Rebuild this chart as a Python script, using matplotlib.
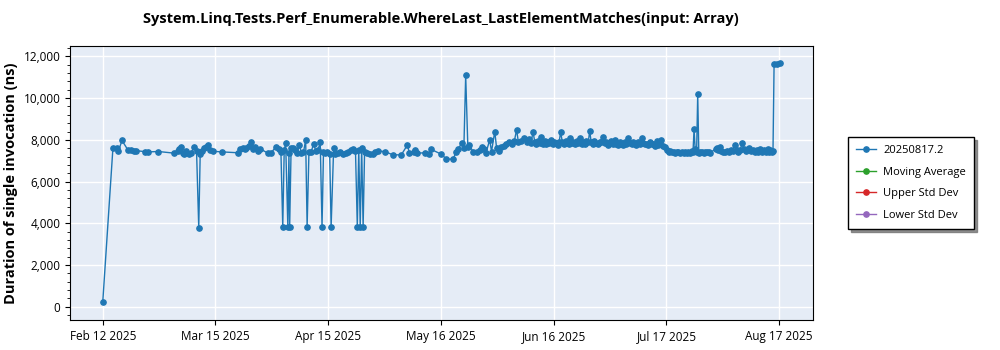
import numpy as np
import pandas as pd
import matplotlib
matplotlib.use("Agg")
from matplotlib import pyplot as plt
import matplotlib.dates as mdates
from matplotlib.ticker import FuncFormatter, MultipleLocator

plt.rcParams['font.family'] = ['Open Sans', 'DejaVu Sans']

title = "System.Linq.Tests.Perf_Enumerable.WhereLast_LastElementMatches(input: Array)"
ylabel = "Duration of single invocation (ns)"
series_name = "20250817.2"
start = "2025-02-12"

# days after Feb 12 2025 and measured duration (ns)
days = [
    0, 2.8, 4.0, 4.3, 5.3, 6.9, 7.8, 8.5, 9.2, 11.5, 12.4, 15.3, 19.7, 20.6, 21.0, 21.6,
    22.0, 22.4, 23.0, 23.6, 24.2, 25.2, 25.8, 26.4, 26.8, 27.2, 27.8, 28.4, 28.9, 29.5,
    30.2, 32.9,
    37.2, 37.8, 38.5, 39.0, 39.5, 40.2, 40.8, 41.4, 42.0, 42.6, 43.2, 45.4, 46.3, 47.7,
    48.4, 49.0, 49.5, 49.9, 50.3, 50.9, 51.2, 51.4, 51.8, 52.4, 53.0, 53.5, 54.1, 54.6,
    55.2, 55.8, 56.2, 56.7, 57.3, 58.0, 58.6, 59.2, 59.8, 60.3, 60.7, 61.2, 61.8, 62.4,
    62.8, 63.5, 64.0, 64.6, 65.3, 66.0, 66.8, 67.5, 68.2, 68.8, 69.5, 70.0, 70.4, 70.8,
    71.2, 71.6, 72.0, 72.6, 73.4, 74.2, 75.0, 75.8, 77.5,
    79.8, 82.1, 83.8, 84.3, 85.5, 86.0, 86.5, 88.6, 89.6, 90.2, 93.1, 94.5, 96.3, 97.2,
    97.8, 98.8, 99.3, 99.8, 100.4, 100.8, 101.8, 102.8, 103.6, 104.3, 104.8, 105.4, 106.4,
    106.9, 107.8, 108.3, 109.0, 109.6, 110.4, 111.0, 111.8, 112.5, 113.2, 113.8, 114.3,
    115.0, 115.8, 116.6,
    117.3, 117.8, 118.3, 118.8, 119.2, 119.7, 120.1, 120.6, 121.0, 121.5, 121.9, 122.4,
    122.8, 123.3, 123.7, 124.2, 124.6, 125.1, 125.5, 125.9, 126.4, 126.8, 127.3, 127.7,
    128.1, 128.5, 129.0, 129.4, 129.9, 130.3, 130.8, 131.2, 131.7, 132.1, 132.6, 133.0,
    133.5, 133.9, 134.3, 134.8, 135.2, 135.7, 136.1, 136.6, 137.1, 137.6, 138.0, 138.5,
    138.9, 139.4, 139.8, 140.3, 140.8, 141.2, 141.7, 142.1, 142.6, 143.0, 143.5, 144.0,
    144.5, 144.9, 145.4, 145.8, 146.3, 146.7, 147.2, 147.7, 148.2, 148.6, 149.1, 149.6,
    150.0, 150.5, 151.0, 151.4, 151.9, 152.3, 152.8, 153.2, 153.6, 154.1, 154.6, 155.1,
    155.6, 156.1, 156.6,
    157.0, 157.4, 157.9, 158.3, 158.8, 159.2, 159.7, 160.1, 160.6, 161.0, 161.5, 161.9,
    162.3, 162.6, 162.9, 163.3, 163.6, 163.9, 164.3, 164.7, 165.2, 165.6, 166.1, 166.6,
    167.0, 168.5, 168.9, 169.3, 169.7, 170.1, 170.6, 171.1, 171.6, 172.2, 172.7, 173.2,
    173.8, 174.3, 174.8, 175.3, 175.8, 176.3, 176.8, 177.3, 177.8, 178.3, 178.8, 179.3,
    179.8, 180.3, 180.8, 181.3, 181.8, 182.3, 182.8, 183.2, 183.6, 184.0, 184.3, 184.6,
    185.4, 186.2,
]
values = [
    200, 7600, 7630, 7450, 7970, 7520, 7500, 7480, 7480, 7440, 7420, 7440, 7360, 7480, 7560, 7650,
    7380, 7330, 7480, 7320, 7350, 7680, 7450, 3790, 7320, 7480, 7600, 7680, 7760, 7520,
    7450, 7420,
    7380, 7550, 7600, 7560, 7620, 7700, 7920, 7560, 7660, 7480, 7580, 7360, 7380, 7680,
    7560, 7400, 3830, 7500, 7840, 3830, 7380, 3830, 7620, 7600, 7500, 7380, 7760, 7380,
    7400, 8000, 3830, 7400, 7440, 7790, 7460, 7520, 7890, 3830, 7420, 7360, 7400, 7340,
    3830, 7630, 7340, 7380, 7420, 7330, 7350, 7400, 7500, 7560, 7460, 3830, 7520, 3830,
    7600, 3830, 7420, 7360, 7310, 7340, 7400, 7460, 7440,
    7280, 7280, 7760, 7360, 7420, 7500, 7360, 7380, 7320, 7550, 7310, 7075, 7075, 7400,
    7580, 7870, 7620, 11090, 7640, 7750, 7440, 7400, 7520, 7660, 7580, 7380, 8000,
    7440, 8400, 7600, 7450, 7680, 7720, 7780, 7900, 7820, 7960, 8480, 7880,
    7960, 8100, 7900,
    8050, 7840, 8400, 7900, 7780, 7960, 7850, 8160, 7820, 7950, 7780, 7900,
    7860, 7990, 7800, 7920, 7840, 7760, 7900, 8370, 7880, 7800, 7950, 7840,
    7780, 8110, 7860, 7900, 7800, 7940, 7850, 8110, 7820, 7900, 7780, 7960,
    7880, 8430, 7900, 7820, 7960, 7850, 7780, 7920, 7880, 8160, 7840, 7900,
    7760, 7860, 7940, 7800, 7990, 7820, 7760, 7880, 7800, 7740, 7900, 7820,
    8110, 7860, 7780, 7900, 7820, 7760, 7880, 7800, 8080, 7860, 7780, 7820,
    7740, 7900, 7780, 7820, 7700, 7950, 7760, 7800, 8000, 7720, 7680, 7520,
    7440, 7480, 7400,
    7420, 7380, 7440, 7400, 7360, 7420, 7380, 7440, 7360, 7400, 7380, 7460,
    7400, 8530, 7560, 7420, 10190, 7380, 7440, 7400, 7360, 7420, 7400, 7440,
    7380, 7560, 7620, 7520, 7680, 7460, 7400, 7440, 7480, 7420, 7520, 7460,
    7760, 7500, 7440, 7520, 7840, 7560, 7480, 7540, 7600, 7460, 7520, 7440,
    7500, 7420, 7560, 7440, 7500, 7400, 7580, 7440, 7520, 7400, 7480, 11650,
    11620, 11700,
]
# statistic series are empty in the source chart (legend only)
moving_avg = []
upper_std = []
lower_std = []

tick_dates = ["2025-02-12", "2025-03-15", "2025-04-15", "2025-05-16",
              "2025-06-16", "2025-07-17", "2025-08-17"]

t0 = pd.Timestamp(start)
dates = t0 + pd.to_timedelta(days, unit="D")

fig = plt.figure(figsize=(10, 3.5), dpi=100)
ax = fig.add_axes([0.070, 0.086, 0.743, 0.783])
ax.set_facecolor("#e5ecf6")

ax.plot(dates, values, color="#1f77b4", marker="o", markersize=3.8, linewidth=1, label=series_name)
ax.plot(dates[:len(moving_avg)], moving_avg, color="#2ca02c", marker="o", markersize=3.8, linewidth=1, label="Moving Average")
ax.plot(dates[:len(upper_std)], upper_std, color="#d62728", marker="o", markersize=3.8, linewidth=1, label="Upper Std Dev")
ax.plot(dates[:len(lower_std)], lower_std, color="#9467bd", marker="o", markersize=3.8, linewidth=1, label="Lower Std Dev")

ax.grid(True, color="white", linewidth=1)
ax.set_axisbelow(True)
for s in ax.spines.values():
    s.set_color("black")

ax.set_xlim(t0 - pd.Timedelta(days=9.0), t0 + pd.Timedelta(days=195.3))
ax.set_ylim(-640, 12510)
ax.set_xticks(pd.to_datetime(tick_dates))
ax.xaxis.set_major_formatter(mdates.DateFormatter("%b %d %Y"))
ax.yaxis.set_major_locator(MultipleLocator(2000))
ax.yaxis.set_minor_locator(MultipleLocator(400))
ax.yaxis.set_major_formatter(FuncFormatter(lambda v, p: f"{v:,.0f}"))
ax.tick_params(labelsize=8.5)

fig.text(0.441, 0.945, title, ha="center", va="center", fontsize=10.5, fontweight="bold")
ax.set_ylabel(ylabel, fontsize=10.5, fontweight="bold")

leg = fig.legend(loc="upper left", bbox_to_anchor=(0.848, 0.609), borderaxespad=0,
                 fontsize=8, fancybox=False, shadow={'color': '0.45', 'alpha': 0.8}, edgecolor="black",
                 framealpha=1, handlelength=1.8, borderpad=0.75, labelspacing=0.95, handletextpad=0.6)

fig.savefig("out.png", dpi=100)
